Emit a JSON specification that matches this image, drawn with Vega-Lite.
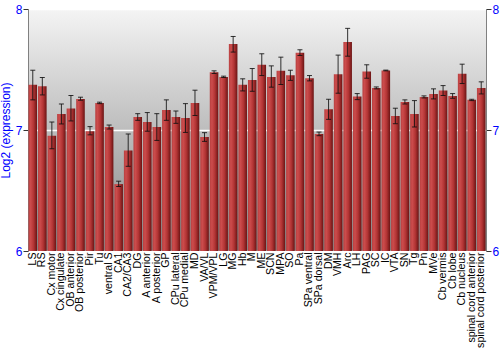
{
  "$schema": "https://vega.github.io/schema/vega-lite/v6.json",
  "autosize": "none",
  "width": 458,
  "height": 242,
  "padding": {"left": 28, "top": 9, "right": 14, "bottom": 99},
  "background": "white",
  "view": {
    "stroke": "#808080",
    "strokeWidth": 1,
    "fill": {"gradient": "linear", "x1": 0, "y1": 0, "x2": 0, "y2": 1,
      "stops": [{"offset": 0, "color": "#f4f4f4"}, {"offset": 1, "color": "#858585"}]}
  },
  "config": {
    "font": "Liberation Sans",
    "axis": {"labelFont": "Liberation Sans", "titleFont": "Liberation Sans"}
  },
  "data": {"values": [
    {"region": "LS", "v": 7.373, "lo": 7.249, "hi": 7.494},
    {"region": "RS", "v": 7.362, "lo": 7.29, "hi": 7.434},
    {"region": "Cx motor", "v": 6.953, "lo": 6.845, "hi": 7.066},
    {"region": "Cx cingulate", "v": 7.133, "lo": 7.05, "hi": 7.215},
    {"region": "OB anterior", "v": 7.177, "lo": 7.075, "hi": 7.285},
    {"region": "OB posterior", "v": 7.257, "lo": 7.246, "hi": 7.271},
    {"region": "Pir", "v": 6.99, "lo": 6.96, "hi": 7.028},
    {"region": "Tu", "v": 7.224, "lo": 7.218, "hi": 7.23},
    {"region": "ventral S", "v": 7.025, "lo": 7.008, "hi": 7.041},
    {"region": "CA1", "v": 6.553, "lo": 6.533, "hi": 6.577},
    {"region": "CA2/CA3", "v": 6.831, "lo": 6.7, "hi": 6.967},
    {"region": "DG", "v": 7.108, "lo": 7.08, "hi": 7.135},
    {"region": "A anterior", "v": 7.066, "lo": 6.99, "hi": 7.144},
    {"region": "A posterior", "v": 7.025, "lo": 6.914, "hi": 7.135},
    {"region": "GP", "v": 7.166, "lo": 7.08, "hi": 7.249},
    {"region": "CPu lateral", "v": 7.108, "lo": 7.055, "hi": 7.157},
    {"region": "CPu medial", "v": 7.099, "lo": 6.98, "hi": 7.218},
    {"region": "MD", "v": 7.224, "lo": 7.12, "hi": 7.329},
    {"region": "VA/VL", "v": 6.942, "lo": 6.906, "hi": 6.978},
    {"region": "VPM/VPL", "v": 7.478, "lo": 7.467, "hi": 7.489},
    {"region": "LG", "v": 7.439, "lo": 7.434, "hi": 7.445},
    {"region": "MG", "v": 7.71, "lo": 7.644, "hi": 7.773},
    {"region": "Hb", "v": 7.373, "lo": 7.323, "hi": 7.423},
    {"region": "M", "v": 7.414, "lo": 7.32, "hi": 7.508},
    {"region": "ME", "v": 7.539, "lo": 7.45, "hi": 7.63},
    {"region": "SCN", "v": 7.439, "lo": 7.354, "hi": 7.53},
    {"region": "MPA", "v": 7.489, "lo": 7.376, "hi": 7.602},
    {"region": "SO", "v": 7.453, "lo": 7.41, "hi": 7.494},
    {"region": "Pa", "v": 7.638, "lo": 7.616, "hi": 7.663},
    {"region": "SPa ventral", "v": 7.428, "lo": 7.406, "hi": 7.45},
    {"region": "SPa dorsal", "v": 6.967, "lo": 6.953, "hi": 6.983},
    {"region": "DM", "v": 7.171, "lo": 7.088, "hi": 7.254},
    {"region": "VMH", "v": 7.461, "lo": 7.304, "hi": 7.619},
    {"region": "Arc", "v": 7.727, "lo": 7.61, "hi": 7.84},
    {"region": "LH", "v": 7.276, "lo": 7.251, "hi": 7.301},
    {"region": "PAG", "v": 7.483, "lo": 7.428, "hi": 7.539},
    {"region": "SC", "v": 7.348, "lo": 7.34, "hi": 7.356},
    {"region": "IC", "v": 7.492, "lo": 7.489, "hi": 7.495},
    {"region": "VTA", "v": 7.116, "lo": 7.052, "hi": 7.18},
    {"region": "SN", "v": 7.232, "lo": 7.215, "hi": 7.249},
    {"region": "Tg", "v": 7.133, "lo": 7.025, "hi": 7.243},
    {"region": "Pn", "v": 7.273, "lo": 7.265, "hi": 7.282},
    {"region": "MVe", "v": 7.298, "lo": 7.257, "hi": 7.34},
    {"region": "Cb vermis", "v": 7.326, "lo": 7.285, "hi": 7.367},
    {"region": "Cb lobe", "v": 7.282, "lo": 7.262, "hi": 7.301},
    {"region": "Cb nucleus", "v": 7.464, "lo": 7.384, "hi": 7.544},
    {"region": "spinal cord anterior", "v": 7.249, "lo": 7.243, "hi": 7.254},
    {"region": "spinal cord posterior", "v": 7.348, "lo": 7.298, "hi": 7.398}
  ]},
  "encoding": {
    "x": {
      "field": "region", "type": "nominal", "sort": null,
      "scale": {"paddingInner": 0.1, "paddingOuter": 0.05},
      "axis": {"title": null, "labelAngle": -90, "domain": false, "ticks": false,
        "labelPadding": 1, "labelFontSize": 10.6, "labelColor": "#000", "labelOverlap": false}
    }
  },
  "layer": [
    {
      "mark": {"type": "bar", "stroke": null,
        "color": {"gradient": "linear", "x1": 0, "y1": 0, "x2": 1, "y2": 0,
          "stops": [
            {"offset": 0, "color": "#b84040"},
            {"offset": 0.25, "color": "#cc4c4c"},
            {"offset": 0.6, "color": "#b23434"},
            {"offset": 1, "color": "#6a1414"}
          ]}},
      "encoding": {
        "y": {
          "field": "v", "type": "quantitative",
          "scale": {"domain": [6, 8], "zero": false, "nice": false, "clamp": true},
          "axis": {"orient": "left", "title": "Log2 (expression)", "values": [6, 7, 8], "format": ".0f",
            "labelOverlap": false, "labelFlush": false,
            "titleColor": "#0000ff", "titleFontSize": 12, "titleFontWeight": "normal", "titlePadding": 3,
            "labelColor": "#0000ff", "labelFontSize": 12, "labelPadding": 1,
            "tickSize": 5, "tickColor": "#333", "domainColor": "#808080",
            "grid": true, "gridColor": "#ffffff", "gridWidth": 1.5}
        },
        "y2": {"datum": 6}
      }
    },
    {
      "mark": {"type": "rule", "color": "#111", "strokeWidth": 1, "opacity": 0.85},
      "encoding": {
        "y": {"field": "lo", "type": "quantitative",
          "axis": {"orient": "right", "title": null, "values": [6, 7, 8], "format": ".0f",
            "labelOverlap": false, "labelFlush": false,
            "labelColor": "#0000ff", "labelFontSize": 12, "labelPadding": 1,
            "tickSize": 5, "tickColor": "#333", "domainColor": "#808080", "grid": false}},
        "y2": {"field": "hi"}
      }
    },
    {
      "mark": {"type": "tick", "color": "#111", "size": 5, "thickness": 1, "opacity": 0.85},
      "encoding": {"y": {"field": "lo", "type": "quantitative", "axis": null}}
    },
    {
      "mark": {"type": "tick", "color": "#111", "size": 5, "thickness": 1, "opacity": 0.85},
      "encoding": {"y": {"field": "hi", "type": "quantitative", "axis": null}}
    }
  ],
  "resolve": {"axis": {"y": "independent"}}
}
